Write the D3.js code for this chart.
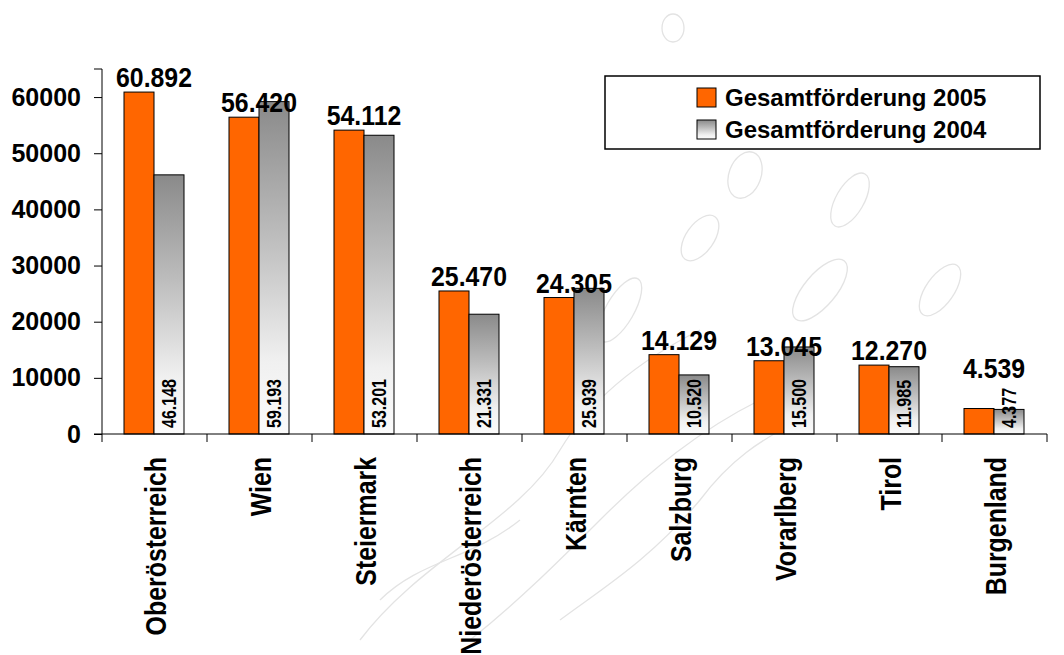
<!DOCTYPE html>
<html><head><meta charset="utf-8">
<script src="https://cdn.jsdelivr.net/npm/d3@7"></script>
<style>
body{margin:0;background:#fff;}
svg{display:block;font-family:"Liberation Sans",Arial,sans-serif;font-weight:bold;}
</style></head>
<body>
<svg id="chart" width="1064" height="655"></svg>
<script>
const categories = ["Oberösterreich","Wien","Steiermark","Niederösterreich","Kärnten","Salzburg","Vorarlberg","Tirol","Burgenland"];
const values2005 = [60892,56420,54112,25470,24305,14129,13045,12270,4539];
const values2004 = [46148,59193,53201,21331,25939,10520,15500,11985,4377];
const seriesNames = ["Gesamtförderung 2005","Gesamtförderung 2004"];
const yTicks = [0,10000,20000,30000,40000,50000,60000];

const svg = d3.select("#chart");
const defs = svg.append("defs");
const grad = defs.append("linearGradient").attr("id","gray").attr("x1",0).attr("y1",0).attr("x2",0).attr("y2",1);
grad.append("stop").attr("offset","0%").attr("stop-color","#8a8a8a");
grad.append("stop").attr("offset","40%").attr("stop-color","#bcbcbc");
grad.append("stop").attr("offset","78%").attr("stop-color","#f0f0f0");
grad.append("stop").attr("offset","100%").attr("stop-color","#fbfbfb");

// faint watermark decoration
const wm = svg.append("g").attr("fill","none").attr("stroke","#e3e3e3").attr("stroke-width",1.3);
wm.append("ellipse").attr("cx",673).attr("cy",28).attr("rx",11).attr("ry",14);
wm.append("ellipse").attr("cx",745).attr("cy",175).attr("rx",16).attr("ry",24).attr("transform","rotate(20,745,175)");
wm.append("ellipse").attr("cx",700).attr("cy",238).attr("rx",14).attr("ry",26).attr("transform","rotate(35,700,238)");
wm.append("ellipse").attr("cx",850).attr("cy",200).attr("rx",14).attr("ry",30).attr("transform","rotate(30,850,200)");
wm.append("ellipse").attr("cx",820).attr("cy",290).attr("rx",16).attr("ry",38).attr("transform","rotate(40,820,290)");
wm.append("ellipse").attr("cx",940).attr("cy",290).attr("rx",14).attr("ry",30).attr("transform","rotate(35,940,290)");
wm.append("ellipse").attr("cx",620).attr("cy",310).attr("rx",14).attr("ry",36).attr("transform","rotate(30,620,310)");
wm.append("path").attr("d","M360,640 C420,560 520,520 560,450 C590,400 640,360 700,330");
wm.append("path").attr("d","M470,640 C520,600 560,560 600,520 C650,470 700,430 760,400");
wm.append("path").attr("d","M380,600 C420,560 470,560 520,520");
wm.append("path").attr("d","M560,620 C600,590 650,560 700,500 C730,460 760,440 800,420");

const x0 = 102, x1 = 1047, yBase = 434, yTop = 69;
const x = d3.scaleBand().domain(categories).range([x0,x1]).padding(0);
const xs = d3.scaleBand().domain(["2005","2004"]).range([22,82]).padding(0);
const y = d3.scaleLinear().domain([0,65000]).range([yBase,yTop]);

// bars
const g = svg.append("g");
const groups = g.selectAll("g.cat").data(categories).join("g").attr("class","cat")
  .attr("transform",d=>`translate(${x(d)},0)`);
groups.append("rect").attr("x",xs("2005")).attr("width",xs.bandwidth())
  .attr("y",(d,i)=>y(values2005[i])).attr("height",(d,i)=>yBase-y(values2005[i]))
  .attr("fill","#ff6600").attr("stroke","#000").attr("stroke-width",1);
groups.append("rect").attr("x",xs("2004")).attr("width",xs.bandwidth())
  .attr("y",(d,i)=>y(values2004[i])).attr("height",(d,i)=>yBase-y(values2004[i]))
  .attr("fill","url(#gray)").attr("stroke","#000").attr("stroke-width",1);

const fmt = v => d3.format(",")(v).replace(/,/g,".");
// 2004 labels
const l04 = groups.append("text")
  .attr("transform",`translate(${xs("2004")+xs.bandwidth()/2+7},${yBase-6}) rotate(-90) scale(0.8,1)`)
  .attr("text-anchor","start").attr("font-size",20).attr("fill","#000")
  .text((d,i)=>fmt(values2004[i]));
const lens = l04.nodes().map(n=>n.getComputedTextLength()*0.8);
// 2005 labels (kept clear of the rotated 2004 label)
groups.append("text")
  .attr("transform",(d,i)=>{
    const ly = Math.min(y(values2005[i]) - 5, yBase - 6 - lens[i] - 10);
    return `translate(${xs("2005")+xs.bandwidth()},${ly}) scale(0.92,1)`;
  })
  .attr("text-anchor","middle").attr("font-size",27).attr("fill","#000")
  .text((d,i)=>fmt(values2005[i]));

// y axis
const yAxis = d3.axisLeft(y).tickValues(yTicks).tickSize(8).tickPadding(13).tickFormat(d3.format("d"));
const ya = svg.append("g").attr("transform",`translate(${x0},0)`).call(yAxis);
ya.select(".domain").attr("stroke","#000").attr("d",`M-8,${yTop}H0V${yBase}H-8`);
ya.selectAll(".tick line").attr("stroke","#000");
ya.selectAll(".tick text").attr("font-size",25).attr("font-family","Liberation Sans, Arial, sans-serif").attr("font-weight","bold").attr("fill","#000");

// x axis
const xa = svg.append("g");
xa.append("line").attr("x1",x0).attr("x2",x1).attr("y1",yBase).attr("y2",yBase).attr("stroke","#000");
const bounds = categories.map(c=>x(c)).concat([x1]);
xa.selectAll("line.t").data(bounds).join("line").attr("class","t")
  .attr("x1",d=>d).attr("x2",d=>d).attr("y1",yBase).attr("y2",yBase+8).attr("stroke","#000");
xa.selectAll("text").data(categories).join("text")
  .attr("transform",d=>`translate(${x(d)+x.bandwidth()/2+11},457) rotate(-90) scale(0.83,1)`)
  .attr("text-anchor","end").attr("font-size",30).attr("fill","#000").text(d=>d);

// legend
const lg = svg.append("g");
lg.append("rect").attr("x",605).attr("y",76).attr("width",435).attr("height",73)
  .attr("fill","#fff").attr("stroke","#000").attr("stroke-width",1.5);
const fills = ["#ff6600","url(#gray)"];
seriesNames.forEach((n,i)=>{
  lg.append("rect").attr("x",697).attr("y",88+i*32).attr("width",19).attr("height",19)
    .attr("fill",fills[i]).attr("stroke","#000").attr("stroke-width",1);
  lg.append("text").attr("x",725).attr("y",106+i*32).attr("font-size",24).attr("fill","#000").text(n);
});
</script>
</body></html>
